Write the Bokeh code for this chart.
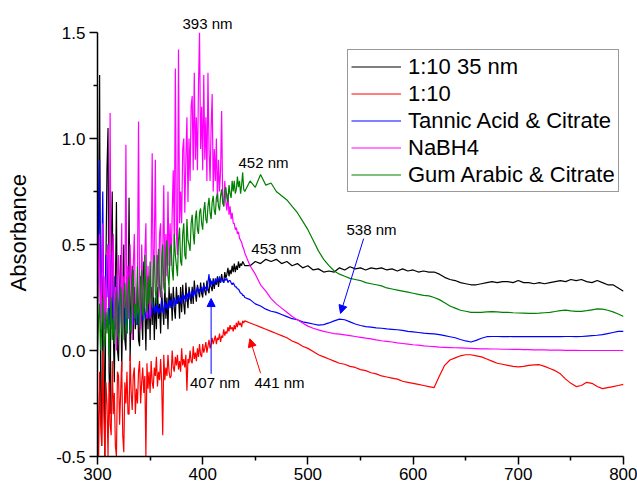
from bokeh.plotting import figure
from bokeh.models import (FixedTicker, Label, Arrow, NormalHead, Legend, LegendItem,
                          Range1d, PrintfTickFormatter, Title)
from bokeh.embed import file_html
from bokeh.resources import INLINE

# ---------------- data ----------------
WL_A = list(range(300, 441))       # 300..440 nm, 1 nm sampling (noisy part)
WL_B = list(range(445, 801, 5))    # 445..800 nm, 5 nm sampling
WAVELENGTH = WL_A + WL_B

SERIES_NAMES = ["1:10 35 nm", "1:10", "Tannic Acid & Citrate", "NaBH4", "Gum Arabic & Citrate"]

BLACK_A = [0.10, 0.60, 1.30, -0.20, -0.45, 0.35, 0.05, -0.50, 0.40, 0.85,
           1.05, -0.10, -0.30, 0.45, 0.75, 0.10, -0.15, 0.30, 0.70, 0.00,
           -0.05, 0.30, 0.45, -0.10, 0.20, 0.50, 0.05, 0.00, 0.35, 0.15,
           0.72, -0.05, 0.25, 0.40, 0.05, 0.30, 0.10, 0.20, 0.30, 0.05,
           0.02, 0.35, 0.15, 0.05, 0.42, 0.20, 0.00, 0.28, 0.10, 0.30,
           0.05, 0.30, 0.12, 0.28, 0.05, 0.25, 0.10, 0.30, 0.15, 0.22,
           0.08, 0.28, 0.20, 0.12, 0.32, 0.15, 0.25, 0.10, 0.30, 0.20,
           0.27, 0.14, 0.30, 0.20, 0.15, 0.30, 0.22, 0.26, 0.15, 0.30,
           0.18, 0.31, 0.22, 0.17, 0.32, 0.25, 0.20, 0.30, 0.26, 0.22,
           0.30, 0.22, 0.33, 0.27, 0.23, 0.31, 0.28, 0.25, 0.32, 0.27,
           0.25, 0.32, 0.28, 0.26, 0.33, 0.29, 0.27, 0.34, 0.30, 0.28,
           0.34, 0.29, 0.33, 0.31, 0.35, 0.30, 0.34, 0.32, 0.36, 0.33,
           0.32, 0.37, 0.34, 0.36, 0.39, 0.35, 0.38, 0.36, 0.40, 0.37,
           0.41, 0.37, 0.40, 0.38, 0.42, 0.39, 0.41, 0.40, 0.42, 0.41,
           0.40]
BLACK_B = [0.40, 0.42, 0.41, 0.43, 0.42, 0.43, 0.41, 0.42, 0.40, 0.41,
           0.39, 0.40, 0.38, 0.385, 0.37, 0.375, 0.37, 0.39, 0.38, 0.395,
           0.385, 0.39, 0.38, 0.39, 0.385, 0.39, 0.38, 0.385, 0.375, 0.385,
           0.375, 0.38, 0.37, 0.375, 0.37, 0.37, 0.36, 0.345, 0.335, 0.33,
           0.32, 0.315, 0.31, 0.31, 0.315, 0.32, 0.325, 0.32, 0.325, 0.325,
           0.32, 0.33, 0.32, 0.32, 0.315, 0.32, 0.315, 0.32, 0.325, 0.33,
           0.325, 0.335, 0.33, 0.335, 0.325, 0.32, 0.33, 0.32, 0.31, 0.31,
           0.295, 0.28]

RED_A = [-0.20, -0.55, -0.10, -0.35, -0.45, 0.00, -0.30, -0.50, -0.15, -0.25,
         -0.50, -0.15, -0.35, -0.40, -0.05, -0.30, -0.20, -0.45, -0.50, -0.10,
         -0.12, -0.35, -0.20, -0.05, -0.40, -0.48, -0.15, -0.25, -0.10, -0.30,
         -0.30, -0.02, -0.20, -0.28, -0.12, -0.08, -0.30, -0.18, -0.25, -0.10,
         -0.05, -0.25, -0.15, -0.08, -0.20, -0.12, -0.50, -0.06, -0.18, -0.10,
         -0.20, -0.05, -0.15, -0.18, -0.08, -0.12, -0.03, -0.17, -0.10, -0.14,
         -0.04, -0.15, -0.40, -0.02, -0.14, -0.08, -0.12, -0.02, -0.10, -0.13,
         -0.12, 0.00, -0.08, -0.10, -0.03, -0.07, -0.02, -0.09, -0.05, -0.10,
         0.01, -0.07, -0.04, -0.08, -0.02, -0.19, -0.04, -0.06, 0.00, -0.05,
         -0.06, 0.02, -0.04, -0.01, -0.05, 0.01, -0.03, 0.03, -0.02, -0.03,
         0.03, -0.01, 0.01, 0.04, -0.01, 0.02, 0.05, 0.01, 0.03, 0.06,
         0.03, 0.05, 0.07, 0.03, 0.06, 0.05, 0.08, 0.04, 0.07, 0.06,
         0.10, 0.07, 0.09, 0.08, 0.11, 0.09, 0.12, 0.10, 0.11, 0.09,
         0.12, 0.10, 0.13, 0.11, 0.14, 0.12, 0.13, 0.11, 0.14, 0.13,
         0.14]
RED_B = [0.13, 0.12, 0.11, 0.10, 0.09, 0.08, 0.07, 0.06, 0.045, 0.035,
         0.02, 0.01, -0.005, -0.02, -0.03, -0.04, -0.05, -0.06, -0.065, -0.075,
         -0.08, -0.09, -0.095, -0.105, -0.11, -0.12, -0.125, -0.13, -0.135, -0.145,
         -0.15, -0.155, -0.16, -0.165, -0.17, -0.175, -0.12, -0.07, -0.045, -0.035,
         -0.025, -0.02, -0.02, -0.025, -0.03, -0.04, -0.05, -0.06, -0.065, -0.07,
         -0.075, -0.077, -0.075, -0.07, -0.068, -0.067, -0.075, -0.085, -0.095, -0.11,
         -0.135, -0.155, -0.17, -0.165, -0.15, -0.155, -0.17, -0.18, -0.175, -0.17,
         -0.165, -0.16]

BLUE_A = [0.30, 0.55, 0.90, 0.15, 0.40, 0.75, 0.20, 0.10, 0.45, 0.25,
          0.50, 0.12, 0.30, 0.45, 0.10, 0.25, 0.35, 0.10, 0.20, 0.35,
          0.08, 0.25, 0.30, 0.10, 0.18, 0.28, 0.12, 0.22, 0.08, 0.20,
          0.25, 0.10, 0.18, 0.24, 0.12, 0.20, 0.15, 0.22, 0.12, 0.18,
          0.13, 0.22, 0.16, 0.14, 0.24, 0.17, 0.15, 0.21, 0.15, 0.19,
          0.22, 0.16, 0.20, 0.23, 0.17, 0.21, 0.18, 0.22, 0.17, 0.20,
          0.18, 0.24, 0.19, 0.17, 0.23, 0.20, 0.22, 0.19, 0.24, 0.21,
          0.24, 0.20, 0.23, 0.25, 0.21, 0.24, 0.22, 0.26, 0.23, 0.25,
          0.22, 0.27, 0.24, 0.26, 0.23, 0.27, 0.25, 0.28, 0.24, 0.27,
          0.28, 0.25, 0.29, 0.26, 0.28, 0.30, 0.27, 0.29, 0.28, 0.30,
          0.27, 0.31, 0.29, 0.30, 0.28, 0.32, 0.36, 0.30, 0.33, 0.31,
          0.33, 0.31, 0.34, 0.32, 0.34, 0.33, 0.35, 0.32, 0.34, 0.33,
          0.32, 0.34, 0.33, 0.34, 0.32, 0.33, 0.33, 0.32, 0.31, 0.32,
          0.31, 0.30, 0.30, 0.29, 0.29, 0.28, 0.27, 0.27, 0.26, 0.26,
          0.25]
BLUE_B = [0.24, 0.22, 0.21, 0.195, 0.185, 0.18, 0.17, 0.16, 0.15, 0.145,
          0.135, 0.13, 0.125, 0.12, 0.122, 0.13, 0.14, 0.148, 0.145, 0.135,
          0.125, 0.118, 0.113, 0.11, 0.107, 0.105, 0.102, 0.10, 0.098, 0.095,
          0.09, 0.088, 0.085, 0.082, 0.08, 0.078, 0.075, 0.07, 0.065, 0.06,
          0.052, 0.045, 0.04, 0.048, 0.058, 0.065, 0.066, 0.066, 0.065, 0.066,
          0.065, 0.066, 0.065, 0.066, 0.065, 0.066, 0.065, 0.066, 0.065, 0.065,
          0.066, 0.066, 0.065, 0.066, 0.068, 0.07, 0.072, 0.075, 0.08, 0.085,
          0.09, 0.09]

MAGENTA_A = [0.20, 0.40, 0.55, 0.10, 0.30, 0.60, 0.05, 0.35, 0.15, 0.45,
             0.50, 0.20, 1.12, 0.15, 0.40, 0.55, 0.10, 0.30, 0.00, 0.35,
             0.45, 0.10, 0.25, 0.60, 0.05, 0.35, 0.20, 0.97, 0.15, 0.40,
             0.15, 0.50, 0.30, 0.05, 0.40, 0.55, 0.20, 0.15, 0.35, 1.08,
             0.25, 0.10, 0.50, 0.30, 0.20, 0.45, 0.60, 0.15, 0.40, 0.25,
             0.15, 0.45, 0.93, 0.25, 0.50, 0.90, 0.30, 0.45, 0.25, 0.55,
             0.60, 0.25, 0.45, 0.78, 0.30, 0.55, 0.35, 0.75, 0.40, 0.60,
             0.40, 0.65, 0.85, 0.50, 1.33, 0.55, 0.45, 1.42, 0.60, 0.75,
             0.60, 0.95, 1.00, 0.65, 0.90, 1.10, 0.70, 1.00, 0.80, 1.15,
             1.20, 0.85, 1.31, 0.90, 1.10, 0.85, 1.25, 1.50, 0.95, 1.15,
             0.85, 1.30, 0.90, 1.10, 0.80, 1.31, 0.95, 0.80, 1.05, 1.21,
             0.75, 0.95, 0.80, 1.00, 0.70, 0.90, 0.75, 0.85, 1.13, 0.70,
             0.68, 0.80, 0.70, 0.66, 0.74, 0.64, 0.68, 0.62, 0.65, 0.60,
             0.60, 0.57, 0.58, 0.55, 0.56, 0.53, 0.52, 0.51, 0.49, 0.48,
             0.46]
MAGENTA_B = [0.40, 0.36, 0.31, 0.28, 0.245, 0.22, 0.20, 0.18, 0.16, 0.145,
             0.13, 0.115, 0.105, 0.097, 0.09, 0.085, 0.08, 0.077, 0.074, 0.07,
             0.066, 0.062, 0.058, 0.055, 0.05, 0.046, 0.043, 0.04, 0.036, 0.033,
             0.03, 0.027, 0.025, 0.022, 0.02, 0.018, 0.016, 0.015, 0.014, 0.013,
             0.012, 0.011, 0.01, 0.009, 0.008, 0.008, 0.007, 0.007, 0.006, 0.006,
             0.005, 0.005, 0.004, 0.004, 0.003, 0.003, 0.003, 0.002, 0.002, 0.002,
             0.001, 0.001, 0.001, 0.0, 0.0, 0.0, 0.0, 0.0, 0.0, 0.0,
             0.0, 0.0]

GREEN_A = [-0.02, 0.15, 0.22, 0.00, 0.10, 0.25, 0.05, 0.02, 0.18, 0.08,
           0.20, -0.03, 0.12, 0.25, 0.05, 0.15, 0.03, 0.22, 0.28, 0.08,
           0.05, 0.22, 0.30, 0.10, 0.05, 0.25, 0.32, 0.12, 0.08, 0.28,
           0.35, 0.12, 0.08, 0.30, 0.38, 0.15, 0.22, 0.12, 0.40, 0.20,
           0.12, 0.30, 0.38, 0.18, 0.15, 0.45, 0.25, 0.18, 0.35, 0.22,
           0.42, 0.25, 0.20, 0.38, 0.45, 0.28, 0.22, 0.40, 0.48, 0.30,
           0.25, 0.42, 0.50, 0.30, 0.27, 0.45, 0.52, 0.35, 0.30, 0.48,
           0.50, 0.38, 0.33, 0.55, 0.45, 0.40, 0.35, 0.52, 0.58, 0.42,
           0.40, 0.55, 0.60, 0.45, 0.43, 0.62, 0.52, 0.50, 0.47, 0.60,
           0.64, 0.55, 0.50, 0.62, 0.66, 0.57, 0.55, 0.65, 0.67, 0.60,
           0.57, 0.66, 0.70, 0.62, 0.60, 0.68, 0.72, 0.65, 0.62, 0.70,
           0.73, 0.66, 0.64, 0.72, 0.74, 0.68, 0.66, 0.73, 0.76, 0.70,
           0.68, 0.75, 0.77, 0.72, 0.70, 0.78, 0.74, 0.72, 0.80, 0.75,
           0.80, 0.74, 0.76, 0.82, 0.77, 0.80, 0.74, 0.78, 0.84, 0.76,
           0.75]
GREEN_B = [0.80, 0.77, 0.83, 0.78, 0.79, 0.75, 0.73, 0.71, 0.68, 0.65,
           0.61, 0.57, 0.52, 0.47, 0.43, 0.40, 0.375, 0.36, 0.35, 0.34,
           0.335, 0.33, 0.32, 0.315, 0.31, 0.305, 0.295, 0.29, 0.285, 0.28,
           0.275, 0.27, 0.265, 0.26, 0.258, 0.25, 0.24, 0.225, 0.21, 0.20,
           0.19, 0.185, 0.18, 0.18, 0.18, 0.182, 0.183, 0.182, 0.18, 0.18,
           0.178, 0.177, 0.176, 0.175, 0.175, 0.176, 0.178, 0.18, 0.184, 0.188,
           0.19, 0.187, 0.185, 0.185, 0.188, 0.192, 0.196, 0.195, 0.19, 0.182,
           0.172, 0.16]

SERIES_VALUES = [BLACK_A + BLACK_B, RED_A + RED_B, BLUE_A + BLUE_B,
                 MAGENTA_A + MAGENTA_B, GREEN_A + GREEN_B]
SERIES_COLORS = ["#000000", "#FF0000", "#0000FF", "#FF00FF", "#008000"]

X_TICKS = [300, 400, 500, 600, 700, 800]
X_MINOR = [350, 450, 550, 650, 750]
Y_TICKS = [-0.5, 0.0, 0.5, 1.0, 1.5]
Y_MINOR = [-0.25, 0.25, 0.75, 1.25]

Y_TITLE = "Absorbance"
PEAK_TEXTS = ["393 nm", "452 nm", "453 nm", "538 nm", "407 nm", "441 nm"]

# ---------------- figure ----------------
FONT = "Liberation Sans"
p = figure(width=637, height=486, x_range=Range1d(300, 800), y_range=Range1d(-0.5, 1.5),
           output_backend="svg", toolbar_location=None,
           min_border_left=97, min_border_right=14, min_border_top=32, min_border_bottom=30)
p.outline_line_color = None
p.grid.visible = False
p.background_fill_color = "white"
p.border_fill_color = "white"

for ax in (p.xaxis[0], p.yaxis[0]):
    ax.axis_line_width = 1.5
    ax.axis_line_color = "black"
    ax.major_tick_line_color = "black"
    ax.minor_tick_line_color = "black"
    ax.major_tick_line_width = 1.5
    ax.minor_tick_line_width = 1.5
    ax.major_tick_in = 0
    ax.major_tick_out = 8
    ax.minor_tick_in = 0
    ax.minor_tick_out = 4
    ax.major_label_text_font = FONT
    ax.major_label_text_font_size = "17px"
    ax.major_label_text_color = "black"

p.xaxis.ticker = FixedTicker(ticks=X_TICKS, minor_ticks=X_MINOR)
p.yaxis.ticker = FixedTicker(ticks=Y_TICKS, minor_ticks=Y_MINOR)
p.yaxis.formatter = PrintfTickFormatter(format="%.1f")
p.xaxis.major_label_standoff = 3
p.yaxis.major_label_standoff = 4
# blank spacer label: pushes the real title (below) further left
p.yaxis.axis_label = " "
p.yaxis.axis_label_text_font_size = "1px"
p.yaxis.axis_label_standoff = 18

renderers = []
for vals, col in zip(SERIES_VALUES, SERIES_COLORS):
    r = p.line(WAVELENGTH, vals, line_color=col, line_width=1.2)
    renderers.append(r)

legend = Legend(items=[LegendItem(label=n, renderers=[r]) for n, r in zip(SERIES_NAMES, renderers)],
                location=(250, 264), orientation="vertical")
legend.label_text_font = FONT
legend.label_text_font_size = "22px"
legend.label_text_color = "black"
legend.glyph_width = 50
legend.glyph_height = 27
legend.label_height = 27
legend.label_standoff = 7
legend.spacing = 0
legend.padding = 3
legend.margin = 0
legend.border_line_color = "#333333"
legend.border_line_width = 1
legend.background_fill_alpha = 1
p.add_layout(legend)

# "393 nm" sits above the frame -> use the top title slot
p.title.text = PEAK_TEXTS[0]
p.title.align = "left"
p.title.offset = 85
p.title.standoff = 1
p.title.text_font = FONT
p.title.text_font_size = "15px"
p.title.text_font_style = "normal"
p.title.text_color = "black"

# y axis title as a left-side title (lets us place it vertically)
ytitle = Title(text=Y_TITLE, align="left", offset=165, standoff=0, vertical_align="middle",
               text_font=FONT, text_font_size="22px", text_font_style="normal", text_color="black")
p.add_layout(ytitle, "left")

# peak annotations inside the frame
label_pos = [(457.8, 0.887), (470.0, 0.479), (560.5, 0.57), (411.7, -0.153), (473.0, -0.153)]
for t, (lx, ly) in zip(PEAK_TEXTS[1:], label_pos):
    p.add_layout(Label(x=lx, y=ly, text=t, text_align="center", text_baseline="middle",
                       text_font=FONT, text_font_size="15px", text_color="black"))

arrows = [((408, -0.11), (408, 0.245), "#0000FF"),
          ((455, -0.107), (444.8, 0.055), "#FF0000"),
          ((553, 0.528), (531, 0.175), "#0000FF")]
for (xs, ys), (xe, ye), col in arrows:
    p.add_layout(Arrow(end=NormalHead(size=8, fill_color=col, line_color=col, line_width=1),
                       x_start=xs, y_start=ys, x_end=xe, y_end=ye,
                       line_color=col, line_width=1))

open("out.html", "w").write(file_html(p, INLINE))
